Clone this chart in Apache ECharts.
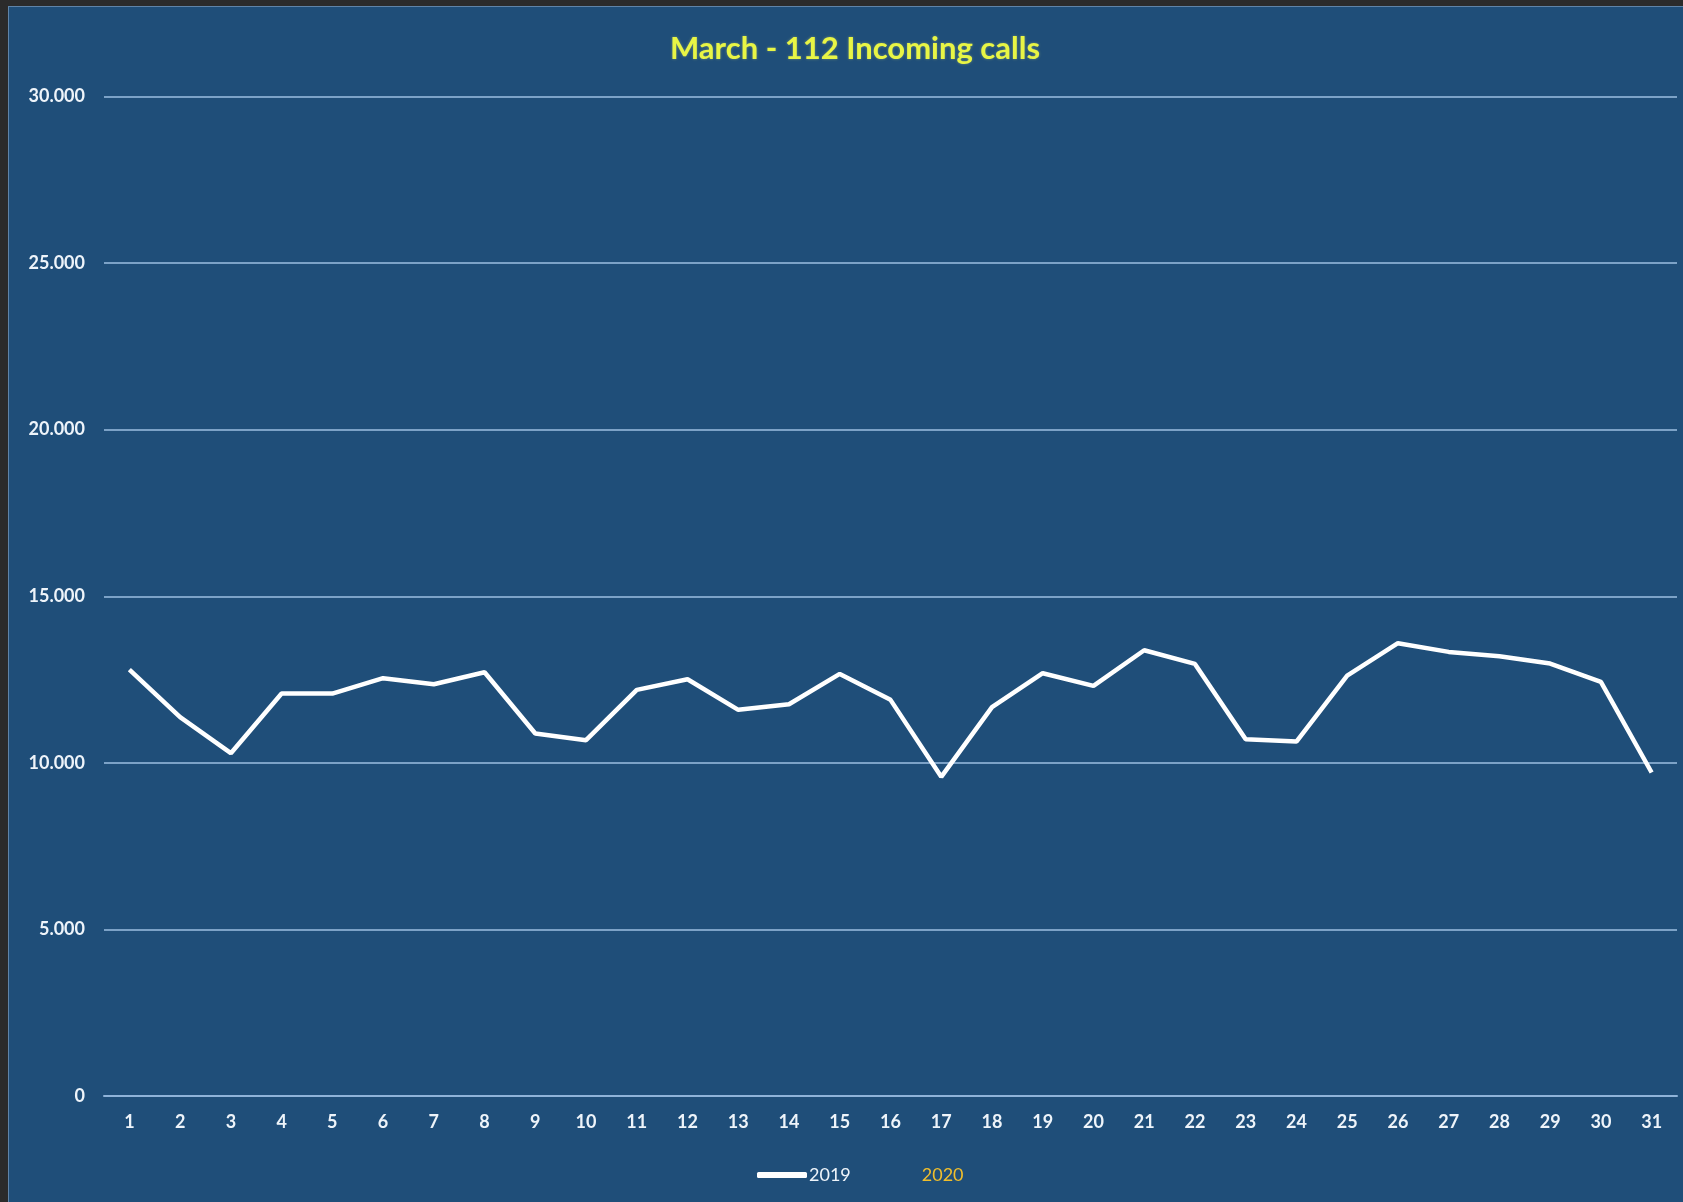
<!DOCTYPE html>
<html>
<head>
<meta charset="utf-8">
<script src="https://cdn.jsdelivr.net/npm/echarts@6/dist/echarts.min.js"></script>
<style>
  html, body { margin: 0; padding: 0; width: 1683px; height: 1202px; background: #2b2b2b; overflow: hidden; }
  #panel { position: absolute; left: 8px; top: 6px; width: 1675px; height: 1196px; background: #1f4e79; border-left: 1px solid #5f84a8; border-top: 1px solid #5f84a8; box-sizing: border-box; }
  #chart { position: absolute; left: 0; top: 0; width: 1683px; height: 1202px; }
</style>
</head>
<body>
<div id="panel"></div>
<div id="chart"></div>
<script>
const titleText = 'March - 112 Incoming calls';
const days = ['1','2','3','4','5','6','7','8','9','10','11','12','13','14','15','16','17','18','19','20','21','22','23','24','25','26','27','28','29','30','31'];
const calls2019 = [12800, 11370, 10290, 12080, 12080, 12540, 12360, 12720, 10880, 10680, 12190, 12510, 11590, 11760, 12670, 11890, 9580, 11670, 12690, 12310, 13380, 12970, 10710, 10640, 12620, 13590, 13330, 13200, 12980, 12430, 9710];
const calls2020 = [];
const seriesNames = ['2019', '2020'];

const chart = echarts.init(document.getElementById('chart'), null, { renderer: 'canvas' });
const fmt = v => v === 0 ? '0' : String(v).replace(/\B(?=(\d{3})+(?!\d))/g, '.');

chart.setOption({
  backgroundColor: 'transparent',
  animation: false,
  title: {
    text: titleText,
    left: 850,
    top: 28,
    textAlign: 'center',
    textStyle: { color: '#e8f545', fontFamily: 'Lato', fontWeight: 'bold', fontSize: 31,
      textShadowColor: 'rgba(255,255,120,0.35)', textShadowBlur: 3 }
  },
  legend: {
    left: 752,
    top: 1161,
    itemWidth: 50,
    itemHeight: 6,
    itemGap: 19,
    textStyle: { color: '#eef4fa', fontFamily: 'Lato', fontSize: 18, padding: [0, 0, 0, -3] },
    data: [
      { name: seriesNames[0], icon: 'roundRect', itemStyle: { color: '#ffffff' } },
      { name: seriesNames[1], icon: 'rect', itemStyle: { color: 'rgba(0,0,0,0)' }, textStyle: { color: '#f0be2c' } }
    ]
  },
  grid: { left: 104, right: 6, top: 96.5, bottom: 106, containLabel: false, outerBoundsMode: 'none' },
  xAxis: {
    type: 'category',
    data: days,
    boundaryGap: true,
    axisLine: { show: true, lineStyle: { color: '#8fb3d9', width: 2 } },
    axisTick: { show: false },
    axisLabel: { color: '#eef4fa', fontFamily: 'Lato', fontWeight: 'bold', fontSize: 18, margin: 17 }
  },
  yAxis: {
    type: 'value',
    min: 0,
    max: 30000,
    interval: 5000,
    axisLine: { show: false },
    axisTick: { show: false },
    axisLabel: { color: '#eef4fa', fontFamily: 'Lato', fontWeight: 'bold', fontSize: 18, margin: 19, formatter: fmt },
    splitLine: { lineStyle: { color: '#9cbfe2', width: 1.5 } }
  },
  series: [
    {
      name: seriesNames[0],
      type: 'line',
      data: calls2019,
      symbol: 'none',
      color: '#ffffff',
      lineStyle: { color: '#ffffff', width: 4.5 }
    },
    {
      name: seriesNames[1],
      type: 'line',
      data: calls2020,
      symbol: 'none',
      color: 'rgba(0,0,0,0)',
      lineStyle: { color: 'rgba(0,0,0,0)', width: 4 }
    }
  ]
});
</script>
</body>
</html>
